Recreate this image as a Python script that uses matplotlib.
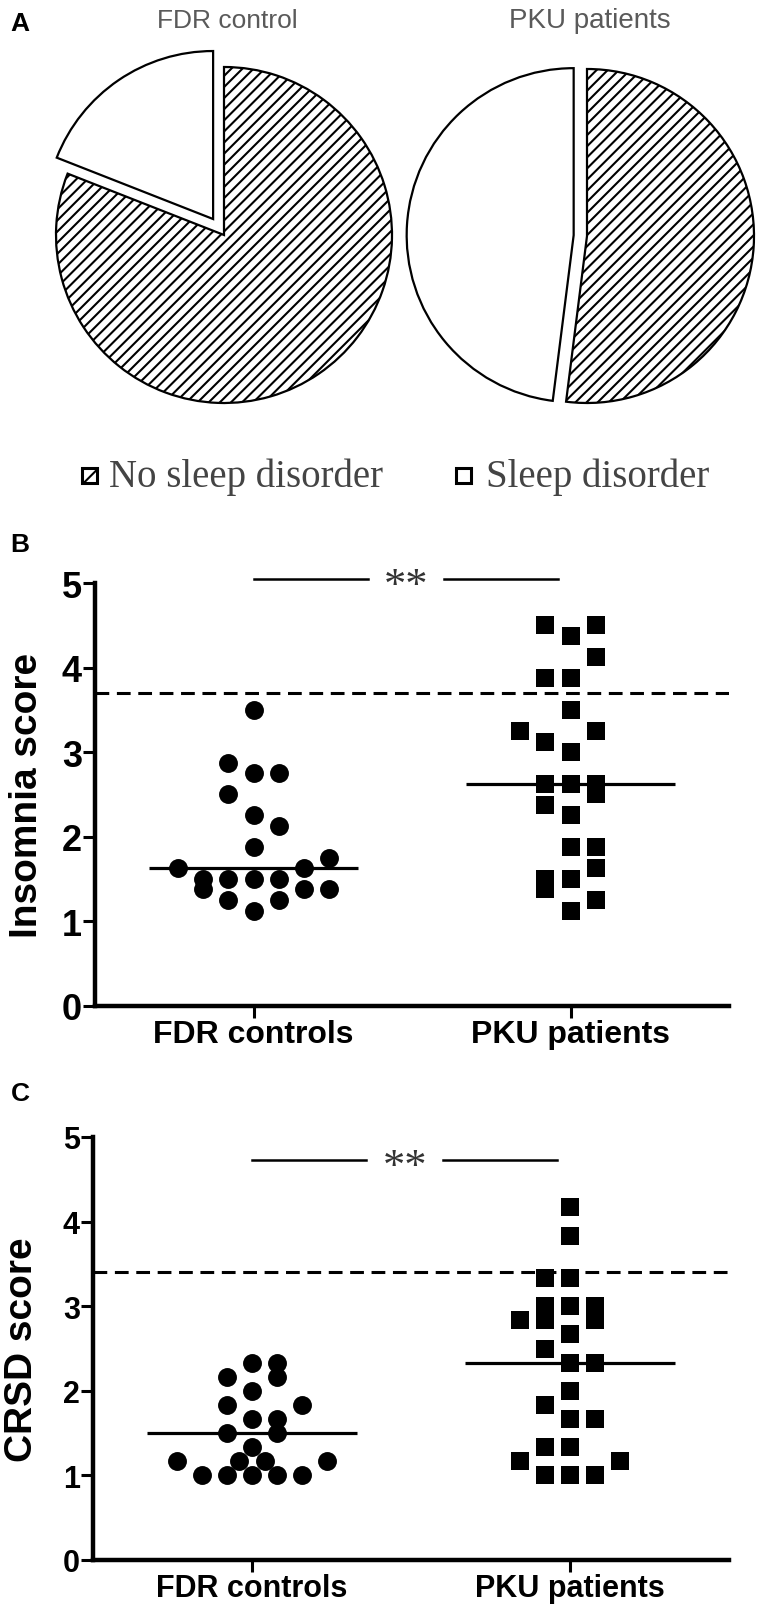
import matplotlib
matplotlib.use("Agg")
import matplotlib.pyplot as plt
import numpy as np
from matplotlib.patches import Rectangle

# ---- data ----
pie_titles = ["FDR control", "PKU patients"]
pie_categories = ["Sleep disorder", "No sleep disorder"]
fdr_counts = [4, 17]
pku_counts = [12, 13]

groups = ["FDR controls", "PKU patients"]

insomnia_fdr = [3.5, 2.875, 2.75, 2.75, 2.5, 2.25, 2.125, 1.875, 1.75,
                1.625, 1.625, 1.5, 1.5, 1.5, 1.5, 1.375, 1.375, 1.375,
                1.25, 1.25, 1.125]
insomnia_fdr_slot = [0, -1, 0, 1, -1, 0, 1, 0, 3,
                     -3, 2, -2, -1, 0, 1, -2, 2, 3,
                     -1, 1, 0]
insomnia_pku = [4.5, 4.5, 4.375, 4.125, 3.875, 3.875, 3.5, 3.25, 3.25,
                3.125, 3.0, 2.625, 2.625, 2.625, 2.5, 2.375, 2.25,
                1.875, 1.875, 1.625, 1.5, 1.5, 1.375, 1.25, 1.125]
insomnia_pku_slot = [-1, 1, 0, 1, -1, 0, 0, -2, 1,
                     -1, 0, -1, 0, 1, 1, -1, 0,
                     0, 1, 1, -1, 0, -1, 1, 0]
insomnia_cutoff = 3.7

crsd_fdr = [2.333, 2.333, 2.167, 2.167, 2.0, 1.833, 1.833, 1.667, 1.667,
            1.5, 1.5, 1.333, 1.167, 1.167, 1.167, 1.167,
            1.0, 1.0, 1.0, 1.0, 1.0]
crsd_fdr_slot = [0, 1, -1, 1, 0, -1, 2, 0, 1,
                 -1, 1, 0, -3, -0.5, 0.5, 3,
                 -2, -1, 0, 1, 2]
crsd_pku = [4.167, 3.833, 3.333, 3.333, 3.0, 3.0, 3.0, 2.833, 2.833, 2.833,
            2.667, 2.5, 2.333, 2.333, 2.0, 1.833, 1.667, 1.667,
            1.333, 1.333, 1.167, 1.167, 1.0, 1.0, 1.0]
crsd_pku_slot = [0, 0, -1, 0, -1, 0, 1, -2, -1, 1,
                 0, -1, 0, 1, 0, -1, 0, 1,
                 -1, 0, -2, 2, -1, 0, 1]
crsd_cutoff = 3.41

W, H = 758, 1615
fig = plt.figure(figsize=(W / 100, H / 100), dpi=100)
plt.rcParams["hatch.linewidth"] = 1.5
SANS = ["Liberation Sans", "DejaVu Sans"]
SERIF = ["Liberation Serif", "DejaVu Serif"]


def px_axes(x0, y0, x1, y1):
    return fig.add_axes([x0 / W, 1 - y1 / H, (x1 - x0) / W, (y1 - y0) / H])


# ---- panel A: pies ----
def pie_panel(cx, cy, r, counts, explode):
    ax = px_axes(cx - 1.25 * r, cy - 1.25 * r, cx + 1.25 * r, cy + 1.25 * r)
    wedges, _ = ax.pie(counts, startangle=90, counterclock=True,
                       explode=[explode, 0], radius=1,
                       wedgeprops=dict(edgecolor="black", linewidth=1.6,
                                       facecolor="white"))
    wedges[1].set_hatch("///")
    ax.set_xlim(-1.25, 1.25)
    ax.set_ylim(-1.25, 1.25)
    ax.set_aspect("equal")
    ax.axis("off")
    return ax


pie_panel(224, 236, 168, fdr_counts, 0.115)
pie_panel(587, 237, 167, pku_counts, 0.08)

fig.text(227 / W, 1 - 21 / H, pie_titles[0], ha="center", va="center",
         fontsize=19, color="#5a5a5a", family=SANS)
fig.text(590 / W, 1 - 21 / H, pie_titles[1], ha="center", va="center",
         fontsize=20, color="#5a5a5a", family=SANS)

# legend drawn by hand: hatched box + text, open box + text
legend_items = [(pie_categories[1], 82, 109, "//"),
                (pie_categories[0], 456, 486, None)]
for label, box_x, text_x, hatch in legend_items:
    fig.add_artist(Rectangle((box_x / W, 1 - 484 / H), 15 / W, 15 / H,
                             transform=fig.transFigure, facecolor="white",
                             edgecolor="black", lw=2.2, hatch=hatch))
    fig.text(text_x / W, 1 - 487 / H, label, ha="left", va="baseline",
             fontsize=28, family=SERIF, color="#444444")


# ---- panels B and C: dot plots ----
def dot_panel(ax, data, slots, cutoff, star_y, ylabel, tick_fs, xlab_fs, lab_x):
    markers = ["o", "s"]
    for i, (vals, sl) in enumerate(zip(data, slots)):
        x = i + np.asarray(sl) * 0.079
        ax.scatter(x, vals, marker=markers[i], s=185, c="black",
                   linewidths=0, zorder=3, clip_on=False)
        med = np.median(vals)
        ax.hlines(med, i - 0.33, i + 0.33, color="black", lw=2.3, zorder=4)
    ax.axhline(cutoff, ls=(0, (4.5, 2.5)), lw=2.2, color="black")
    ax.plot([0, 0.36], [star_y, star_y], color="black", lw=1.8, clip_on=False)
    ax.plot([0.6, 0.96], [star_y, star_y], color="black", lw=1.8, clip_on=False)
    ax.text(0.48, star_y - 0.08, "**", ha="center", va="center", fontsize=32,
            family=SERIF, color="#333333")
    ax.set_xlim(-0.5, 1.5)
    ax.set_ylim(0, 5)
    for s in ("top", "right"):
        ax.spines[s].set_visible(False)
    for s in ("left", "bottom"):
        ax.spines[s].set_linewidth(3.2)
    ax.set_xticks([0, 1])
    ax.set_xticklabels(groups, fontsize=xlab_fs, fontweight="bold", family=SANS)
    ax.set_yticks(range(6))
    ax.set_yticklabels([str(v) for v in range(6)], fontsize=tick_fs,
                       fontweight="bold", family=SANS)
    ax.tick_params(direction="out", length=8.5, width=2.2, pad=1)
    ax.set_ylabel(ylabel, fontsize=28, fontweight="bold", family=SANS)
    ax.yaxis.label.set_va("center")
    ax.yaxis.set_label_coords(lab_x, 0.5)


axB = px_axes(95, 584, 729, 1006.7)
dot_panel(axB, [insomnia_fdr, insomnia_pku],
          [insomnia_fdr_slot, insomnia_pku_slot], insomnia_cutoff, 5.05,
          "Insomnia score", 26, 23, -0.107)

axC = px_axes(93, 1138, 729, 1561)
dot_panel(axC, [crsd_fdr, crsd_pku], [crsd_fdr_slot, crsd_pku_slot],
          crsd_cutoff, 4.73, "CRSD score", 22, 22, -0.112)

for lab, y in (("A", 24), ("B", 545), ("C", 1094)):
    fig.text(20 / W, 1 - y / H, lab, ha="center", va="center", fontsize=19,
             fontweight="bold", family=SANS)

fig.savefig("out.png", dpi=100)
